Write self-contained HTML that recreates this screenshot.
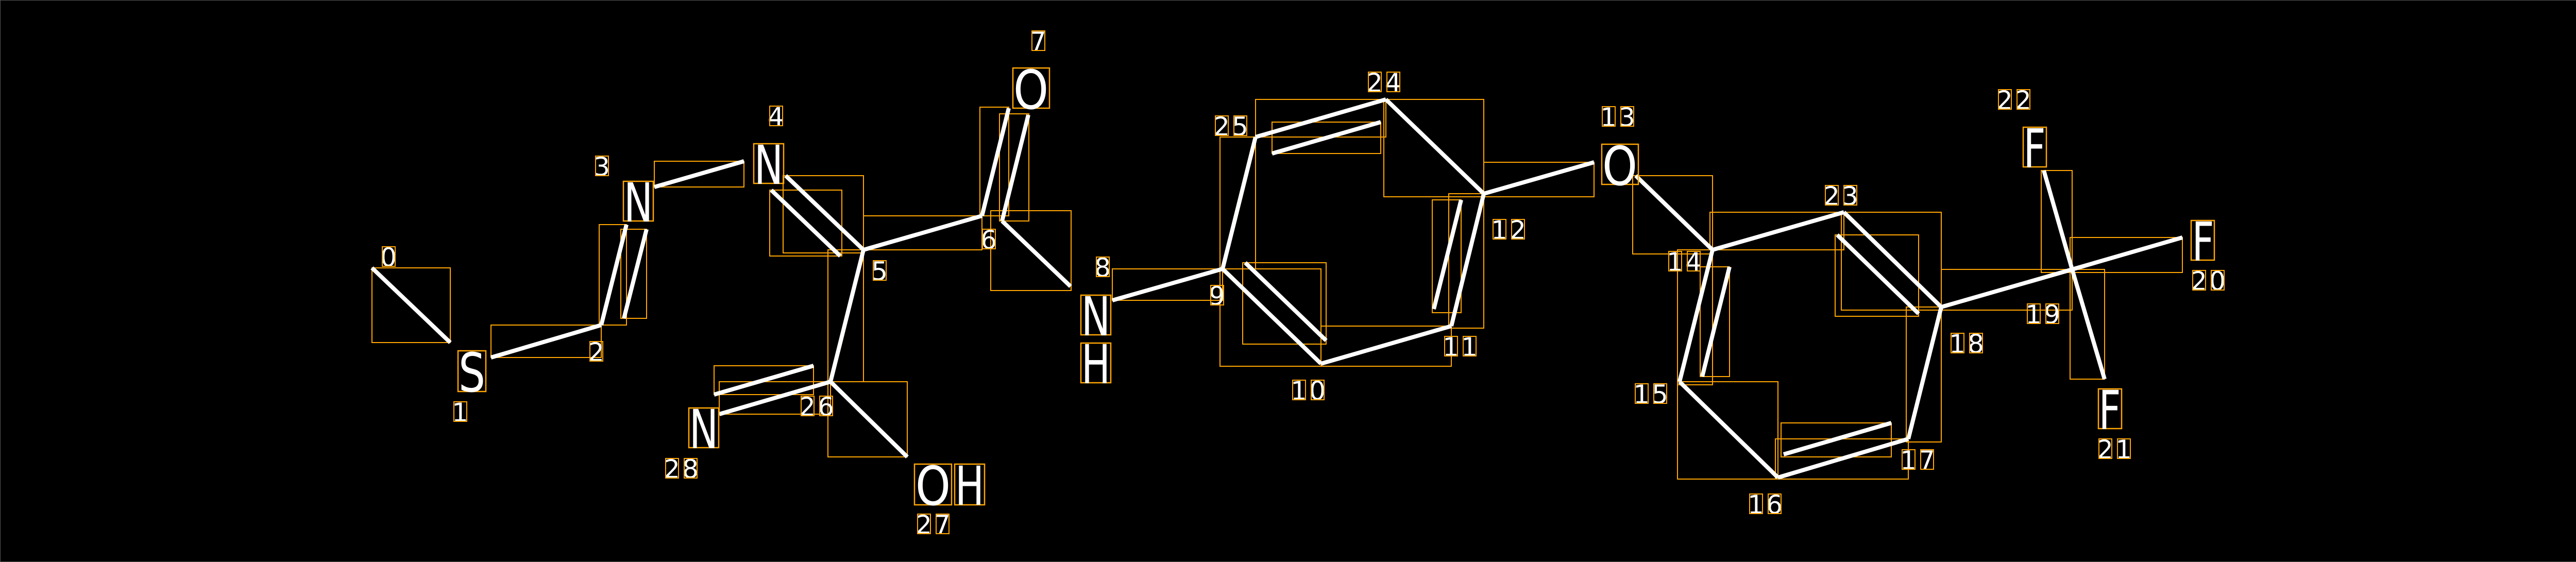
<!DOCTYPE html>
<html><head><meta charset="utf-8"><style>
html,body{margin:0;padding:0;background:#000;}
svg{display:block;}
text{font-family:"DejaVu Sans","Liberation Sans",sans-serif;fill:#fff;}
</style></head><body>
<svg width="5044" height="1091" viewBox="0 0 5044 1091" xmlns="http://www.w3.org/2000/svg">
<rect x="0.5" y="0.5" width="5043" height="1090" fill="#000" stroke="#555" stroke-width="1"/>
<g stroke="#FFA500" stroke-width="2" fill="none">
<rect x="722" y="520" width="152" height="145"/>
<rect x="953" y="631" width="214" height="63"/>
<rect x="1163" y="436" width="53" height="195"/>
<rect x="1205" y="445" width="50" height="173"/>
<rect x="1270" y="313" width="174" height="50"/>
<rect x="1520" y="341" width="156" height="150"/>
<rect x="1494" y="369" width="140" height="128"/>
<rect x="1676" y="419" width="230" height="66"/>
<rect x="1607" y="485" width="69" height="256"/>
<rect x="1607" y="741" width="154" height="146"/>
<rect x="1396" y="741" width="216" height="63"/>
<rect x="1386" y="710" width="193" height="56"/>
<rect x="1902" y="208" width="56" height="211"/>
<rect x="1940" y="221" width="57" height="208"/>
<rect x="1923" y="409" width="156" height="155"/>
<rect x="2159" y="522" width="214" height="61"/>
<rect x="2368" y="266" width="69" height="256"/>
<rect x="2437" y="193" width="253" height="73"/>
<rect x="2469" y="237" width="211" height="61"/>
<rect x="2686" y="193" width="194" height="189"/>
<rect x="2880" y="315" width="214" height="67"/>
<rect x="2812" y="376" width="68" height="261"/>
<rect x="2780" y="388" width="56" height="219"/>
<rect x="2564" y="633" width="253" height="78"/>
<rect x="2368" y="522" width="196" height="189"/>
<rect x="2412" y="510" width="162" height="158"/>
<rect x="3169" y="341" width="155" height="152"/>
<rect x="3319" y="412" width="260" height="73"/>
<rect x="3574" y="412" width="194" height="190"/>
<rect x="3562" y="456" width="162" height="158"/>
<rect x="3768" y="523" width="254" height="79"/>
<rect x="3962" y="331" width="60" height="198"/>
<rect x="4018" y="461" width="218" height="68"/>
<rect x="4018" y="523" width="67" height="213"/>
<rect x="3700" y="596" width="68" height="262"/>
<rect x="3446" y="852" width="258" height="78"/>
<rect x="3457" y="821" width="214" height="66"/>
<rect x="3256" y="741" width="195" height="189"/>
<rect x="3256" y="485" width="68" height="262"/>
<rect x="3300" y="518" width="57" height="213"/>
</g>
<g stroke="#fff" stroke-width="8" stroke-linecap="butt">
<line x1="722" y1="520" x2="874" y2="665"/>
<line x1="953" y1="694" x2="1167" y2="631"/>
<line x1="1167" y1="631" x2="1216" y2="436"/>
<line x1="1211" y1="618" x2="1255" y2="445"/>
<line x1="1270" y1="363" x2="1444" y2="313"/>
<line x1="1525" y1="341" x2="1676" y2="485"/>
<line x1="1497" y1="369" x2="1631" y2="497"/>
<line x1="1676" y1="485" x2="1906" y2="419"/>
<line x1="1676" y1="485" x2="1612" y2="741"/>
<line x1="1612" y1="741" x2="1761" y2="887"/>
<line x1="1612" y1="741" x2="1396" y2="804"/>
<line x1="1579" y1="710" x2="1386" y2="766"/>
<line x1="1906" y1="419" x2="1958" y2="210"/>
<line x1="1945" y1="429" x2="1996" y2="223"/>
<line x1="1945" y1="429" x2="2078" y2="556"/>
<line x1="2159" y1="583" x2="2373" y2="522"/>
<line x1="2373" y1="522" x2="2437" y2="266"/>
<line x1="2437" y1="266" x2="2690" y2="193"/>
<line x1="2469" y1="298" x2="2680" y2="237"/>
<line x1="2690" y1="193" x2="2880" y2="376"/>
<line x1="2880" y1="376" x2="3094" y2="315"/>
<line x1="2880" y1="376" x2="2817" y2="633"/>
<line x1="2836" y1="388" x2="2783" y2="600"/>
<line x1="2817" y1="633" x2="2564" y2="706"/>
<line x1="2564" y1="706" x2="2373" y2="522"/>
<line x1="2574" y1="661" x2="2417" y2="510"/>
<line x1="3175" y1="341" x2="3324" y2="485"/>
<line x1="3324" y1="485" x2="3579" y2="412"/>
<line x1="3579" y1="412" x2="3768" y2="596"/>
<line x1="3566" y1="456" x2="3724" y2="609"/>
<line x1="3768" y1="596" x2="4022" y2="523"/>
<line x1="4022" y1="523" x2="3967" y2="331"/>
<line x1="4022" y1="523" x2="4236" y2="461"/>
<line x1="4022" y1="523" x2="4085" y2="736"/>
<line x1="3768" y1="596" x2="3704" y2="852"/>
<line x1="3704" y1="852" x2="3451" y2="927"/>
<line x1="3671" y1="821" x2="3462" y2="882"/>
<line x1="3451" y1="927" x2="3260" y2="741"/>
<line x1="3260" y1="741" x2="3324" y2="485"/>
<line x1="3304" y1="731" x2="3357" y2="518"/>
</g>
<g stroke="#FFA500" stroke-width="2.5" fill="none">
<rect x="889" y="681" width="54" height="79"/>
<rect x="1210" y="352" width="58" height="77"/>
<rect x="1463" y="279" width="58" height="77"/>
<rect x="1966" y="132" width="71" height="78"/>
<rect x="1775" y="901" width="72" height="79"/>
<rect x="1853" y="901" width="58" height="79"/>
<rect x="1337" y="792" width="58" height="77"/>
<rect x="2098" y="573" width="58" height="77"/>
<rect x="2098" y="666" width="58" height="77"/>
<rect x="3109" y="280" width="71" height="78"/>
<rect x="3927" y="247" width="45" height="77"/>
<rect x="4253" y="428" width="45" height="77"/>
<rect x="4073" y="755" width="45" height="77"/>
</g>
<g font-size="104" text-anchor="middle" dominant-baseline="central">
<text x="916" y="724" textLength="52" lengthAdjust="spacingAndGlyphs">S</text>
<text x="1239" y="394" textLength="56" lengthAdjust="spacingAndGlyphs">N</text>
<text x="1492" y="321" textLength="56" lengthAdjust="spacingAndGlyphs">N</text>
<text x="2001" y="175" textLength="68" lengthAdjust="spacingAndGlyphs">O</text>
<text x="1811" y="944" textLength="68" lengthAdjust="spacingAndGlyphs">O</text>
<text x="1882" y="944" textLength="56" lengthAdjust="spacingAndGlyphs">H</text>
<text x="1366" y="834" textLength="56" lengthAdjust="spacingAndGlyphs">N</text>
<text x="2127" y="615" textLength="56" lengthAdjust="spacingAndGlyphs">N</text>
<text x="2127" y="708" textLength="56" lengthAdjust="spacingAndGlyphs">H</text>
<text x="3144" y="323" textLength="68" lengthAdjust="spacingAndGlyphs">O</text>
<text x="3949" y="289" textLength="43" lengthAdjust="spacingAndGlyphs">F</text>
<text x="4276" y="470" textLength="43" lengthAdjust="spacingAndGlyphs">F</text>
<text x="4095" y="797" textLength="43" lengthAdjust="spacingAndGlyphs">F</text>
</g>
<g font-size="50" text-anchor="middle" dominant-baseline="central">
<text x="754" y="500">0</text>
<text x="893" y="801">1</text>
<text x="1157" y="684">2</text>
<text x="1168" y="324">3</text>
<text x="1506" y="227">4</text>
<text x="1707" y="527">5</text>
<text x="1919" y="466">6</text>
<text x="2015" y="81">7</text>
<text x="2140" y="520">8</text>
<text x="2362" y="575">9</text>
<text x="2521" y="759">1</text><text x="2557" y="759">0</text>
<text x="2816" y="674">1</text><text x="2852" y="674">1</text>
<text x="2910" y="447">1</text><text x="2946" y="447">2</text>
<text x="3122" y="228">1</text><text x="3158" y="228">3</text>
<text x="3251" y="509">1</text><text x="3287" y="509">4</text>
<text x="3186" y="766">1</text><text x="3222" y="766">5</text>
<text x="3408" y="980">1</text><text x="3444" y="980">6</text>
<text x="3704" y="894">1</text><text x="3740" y="894">7</text>
<text x="3799" y="668">1</text><text x="3835" y="668">8</text>
<text x="3947" y="611">1</text><text x="3983" y="611">9</text>
<text x="4268" y="546">2</text><text x="4304" y="546">0</text>
<text x="4086" y="873">2</text><text x="4122" y="873">1</text>
<text x="3891" y="195">2</text><text x="3927" y="195">2</text>
<text x="3555" y="381">2</text><text x="3591" y="381">3</text>
<text x="2668" y="161">2</text><text x="2704" y="161">4</text>
<text x="2371" y="246">2</text><text x="2407" y="246">5</text>
<text x="1567" y="790">2</text><text x="1603" y="790">6</text>
<text x="1793" y="1019">2</text><text x="1829" y="1019">7</text>
<text x="1304" y="911">2</text><text x="1340" y="911">8</text>
</g>
<g stroke="#FFA500" stroke-width="2" fill="none">
<rect x="742" y="479" width="25" height="38"/>
<rect x="881" y="780" width="25" height="38"/>
<rect x="1145" y="663" width="25" height="38"/>
<rect x="1156" y="303" width="25" height="38"/>
<rect x="1494" y="206" width="25" height="38"/>
<rect x="1695" y="506" width="25" height="38"/>
<rect x="1907" y="445" width="25" height="38"/>
<rect x="2003" y="60" width="25" height="38"/>
<rect x="2128" y="499" width="25" height="38"/>
<rect x="2350" y="554" width="25" height="38"/>
<rect x="2509" y="738" width="25" height="38"/><rect x="2545" y="738" width="25" height="38"/>
<rect x="2804" y="653" width="25" height="38"/><rect x="2840" y="653" width="25" height="38"/>
<rect x="2898" y="426" width="25" height="38"/><rect x="2934" y="426" width="25" height="38"/>
<rect x="3110" y="207" width="25" height="38"/><rect x="3146" y="207" width="25" height="38"/>
<rect x="3239" y="488" width="25" height="38"/><rect x="3275" y="488" width="25" height="38"/>
<rect x="3174" y="745" width="25" height="38"/><rect x="3210" y="745" width="25" height="38"/>
<rect x="3396" y="959" width="25" height="38"/><rect x="3432" y="959" width="25" height="38"/>
<rect x="3692" y="873" width="25" height="38"/><rect x="3728" y="873" width="25" height="38"/>
<rect x="3787" y="647" width="25" height="38"/><rect x="3823" y="647" width="25" height="38"/>
<rect x="3935" y="590" width="25" height="38"/><rect x="3971" y="590" width="25" height="38"/>
<rect x="4256" y="525" width="25" height="38"/><rect x="4292" y="525" width="25" height="38"/>
<rect x="4074" y="852" width="25" height="38"/><rect x="4110" y="852" width="25" height="38"/>
<rect x="3879" y="174" width="25" height="38"/><rect x="3915" y="174" width="25" height="38"/>
<rect x="3543" y="360" width="25" height="38"/><rect x="3579" y="360" width="25" height="38"/>
<rect x="2656" y="140" width="25" height="38"/><rect x="2692" y="140" width="25" height="38"/>
<rect x="2359" y="225" width="25" height="38"/><rect x="2395" y="225" width="25" height="38"/>
<rect x="1555" y="769" width="25" height="38"/><rect x="1591" y="769" width="25" height="38"/>
<rect x="1781" y="998" width="25" height="38"/><rect x="1817" y="998" width="25" height="38"/>
<rect x="1292" y="890" width="25" height="38"/><rect x="1328" y="890" width="25" height="38"/>
</g>
</svg>
</body></html>
